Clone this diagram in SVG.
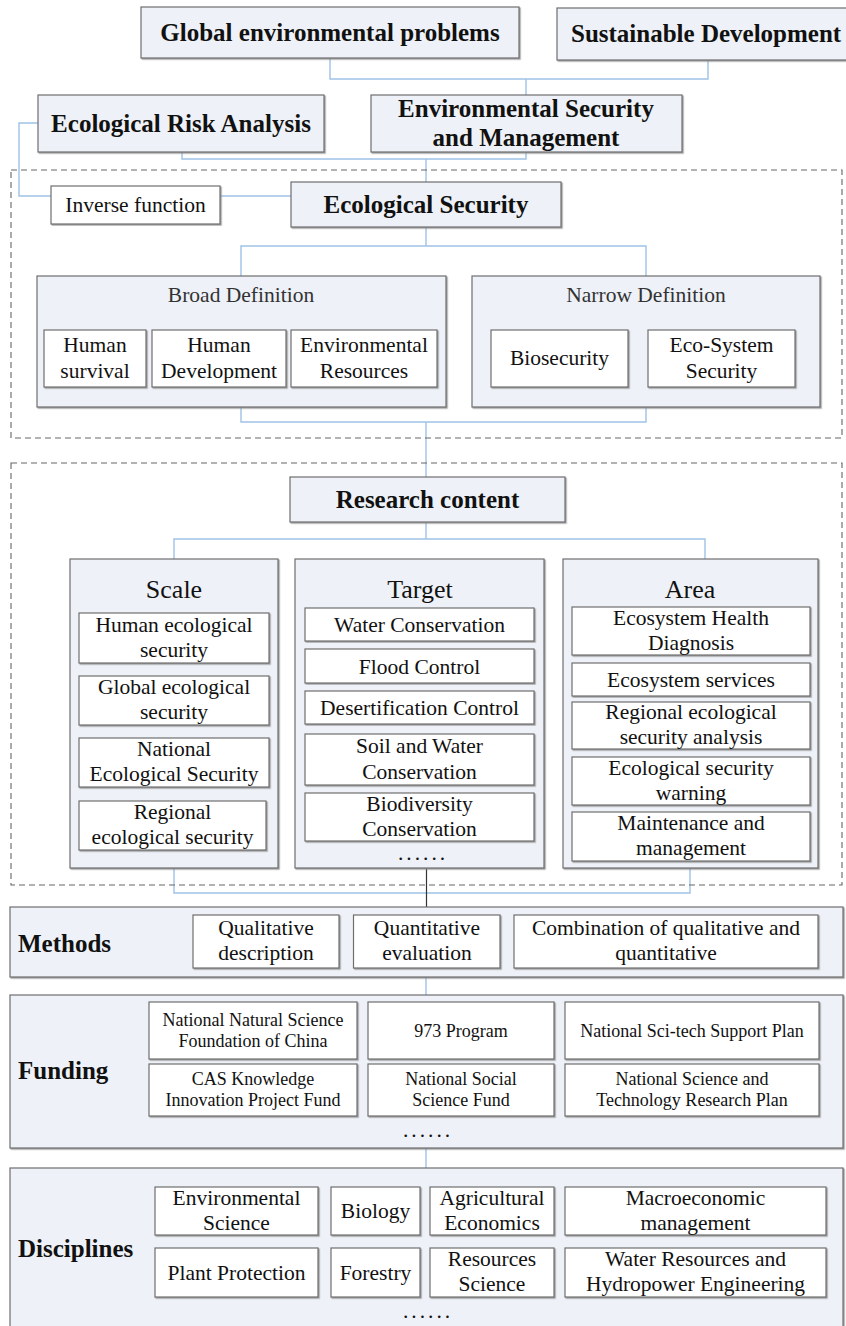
<svg xmlns="http://www.w3.org/2000/svg" width="846" height="1326" viewBox="0 0 846 1326">
<defs>
<filter id="sh" x="-5%" y="-5%" width="110%" height="110%">
<feDropShadow dx="1.2" dy="1.2" stdDeviation="0.6" flood-color="#8a8a8a" flood-opacity="0.8"/>
</filter>
<style>
.panel{fill:#eef1f7;stroke:#6e6e6e;stroke-width:1.2;filter:url(#sh)}
.box{fill:#ffffff;stroke:#6e6e6e;stroke-width:1.2;filter:url(#sh)}
.con{fill:none;stroke:#9fc2e6;stroke-width:1.4}
.blk{fill:none;stroke:#333;stroke-width:1.2}
.dash{fill:none;stroke:#666;stroke-width:1.1;stroke-dasharray:6 4}
text{font-family:"Liberation Serif","Times New Roman",serif;fill:#111;text-anchor:middle}
.b{font-weight:bold;font-size:25px}
.t{font-size:21.5px}
.s{font-size:18px}
.h{font-size:26px}
.g{fill:#333}
.l{text-anchor:start}
.d{font-size:21.5px;letter-spacing:3px}
</style>
</defs>
<rect width="846" height="1326" fill="#ffffff"/>

<g id="connectors">
<path class="con" d="M330,58 V79 H708 V60"/>
<path class="con" d="M526,79 V95"/>
<path class="con" d="M182,152 V159 H526 V152"/>
<path class="con" d="M426,159 V182"/>
<path class="con" d="M38,123 H19 V196 H51"/>
<path class="con" d="M220,196 H291"/>
<path class="con" d="M426,227 V246"/>
<path class="con" d="M241,276 V246 H646 V276"/>
<path class="con" d="M241,407 V422 H646 V407"/>
<path class="con" d="M426,422 V477"/>
<path class="con" d="M426,522 V539"/>
<path class="con" d="M174,559 V539 H705 V559"/>
<path class="con" d="M174,868 V893 H690 V868"/>
<path class="blk" d="M426.5,868 V915"/>
<path class="con" d="M426,977 V995"/>
<path class="con" d="M426,1148 V1168"/>
</g>

<g id="frames">
<rect class="dash" x="11" y="170" width="831" height="268"/>
<rect class="dash" x="11" y="463" width="831" height="422"/>
</g>

<g id="global-env">
<rect class="panel" x="141" y="7" width="378" height="51"/>
<text class="b" x="330" y="41">Global environmental problems</text>
</g>
<g id="sustainable">
<rect class="panel" x="557" y="8" width="300" height="52"/>
<text class="b l" x="571" y="42">Sustainable Development</text>
</g>
<g id="era">
<rect class="panel" x="38" y="95" width="286" height="57"/>
<text class="b" x="181" y="132">Ecological Risk Analysis</text>
</g>
<g id="esm">
<rect class="panel" x="371" y="95" width="311" height="57"/>
<text class="b" x="526" y="117">Environmental Security</text>
<text class="b" x="526" y="146">and Management</text>
</g>
<g id="inverse">
<rect class="box" x="51" y="186" width="169" height="38"/>
<text class="t" x="135.5" y="212">Inverse function</text>
</g>
<g id="eco-security">
<rect class="panel" x="291" y="182" width="270" height="45"/>
<text class="b" x="426" y="213">Ecological Security</text>
</g>

<g id="broad">
<rect class="panel" x="37" y="276" width="409" height="131"/>
<text class="t g" x="241" y="302">Broad Definition</text>
<rect class="box" x="44" y="330" width="102" height="57"/>
<text class="t" x="95" y="352">Human</text><text class="t" x="95" y="378">survival</text>
<rect class="box" x="152" y="330" width="134" height="57"/>
<text class="t" x="219" y="352">Human</text><text class="t" x="219" y="378">Development</text>
<rect class="box" x="291" y="330" width="146" height="57"/>
<text class="t" x="364" y="352">Environmental</text><text class="t" x="364" y="378">Resources</text>
</g>
<g id="narrow">
<rect class="panel" x="472" y="276" width="348" height="131"/>
<text class="t g" x="646" y="302">Narrow Definition</text>
<rect class="box" x="491" y="330" width="137" height="57"/>
<text class="t" x="559.5" y="365">Biosecurity</text>
<rect class="box" x="648" y="330" width="147" height="57"/>
<text class="t" x="721.5" y="352">Eco-System</text><text class="t" x="721.5" y="378">Security</text>
</g>

<g id="research">
<rect class="panel" x="290" y="477" width="275" height="45"/>
<text class="b" x="427.5" y="508">Research content</text>
</g>

<g id="scale">
<rect class="panel" x="70" y="559" width="208" height="309"/>
<text class="h" x="174" y="598">Scale</text>
<rect class="box" x="79" y="613" width="190" height="50"/>
<text class="t" x="174" y="632">Human ecological</text><text class="t" x="174" y="657">security</text>
<rect class="box" x="79" y="676" width="190" height="49"/>
<text class="t" x="174" y="694">Global ecological</text><text class="t" x="174" y="719">security</text>
<rect class="box" x="79" y="738" width="190" height="49"/>
<text class="t" x="174" y="756">National</text><text class="t" x="174" y="781">Ecological Security</text>
<rect class="box" x="79" y="801" width="187" height="49"/>
<text class="t" x="172.5" y="819">Regional</text><text class="t" x="172.5" y="844">ecological security</text>
</g>

<g id="target">
<rect class="panel" x="295" y="559" width="249" height="309"/>
<text class="h" x="420" y="598">Target</text>
<rect class="box" x="305" y="608" width="229" height="33"/>
<text class="t" x="419.5" y="632">Water Conservation</text>
<rect class="box" x="305" y="649" width="229" height="34"/>
<text class="t" x="419.5" y="674">Flood Control</text>
<rect class="box" x="305" y="691" width="229" height="33"/>
<text class="t" x="419.5" y="715">Desertification Control</text>
<rect class="box" x="305" y="734" width="229" height="51"/>
<text class="t" x="419.5" y="753">Soil and Water</text><text class="t" x="419.5" y="779">Conservation</text>
<rect class="box" x="305" y="793" width="229" height="48"/>
<text class="t" x="419.5" y="811">Biodiversity</text><text class="t" x="419.5" y="836">Conservation</text>
<text class="d" x="423" y="860">......</text>
</g>

<g id="area">
<rect class="panel" x="563" y="559" width="255" height="309"/>
<text class="h" x="690" y="598">Area</text>
<rect class="box" x="572" y="607" width="238" height="48"/>
<text class="t" x="691" y="625">Ecosystem Health</text><text class="t" x="691" y="650">Diagnosis</text>
<rect class="box" x="572" y="663" width="238" height="33"/>
<text class="t" x="691" y="687">Ecosystem services</text>
<rect class="box" x="572" y="702" width="238" height="47"/>
<text class="t" x="691" y="719">Regional ecological</text><text class="t" x="691" y="744">security analysis</text>
<rect class="box" x="572" y="757" width="238" height="48"/>
<text class="t" x="691" y="775">Ecological security</text><text class="t" x="691" y="800">warning</text>
<rect class="box" x="572" y="812" width="238" height="49"/>
<text class="t" x="691" y="830">Maintenance and</text><text class="t" x="691" y="855">management</text>
</g>

<g id="methods">
<rect class="panel" x="10" y="907" width="833" height="70"/>
<text class="b l" x="18" y="952">Methods</text>
<rect class="box" x="193" y="915" width="146" height="53"/>
<text class="t" x="266" y="935">Qualitative</text><text class="t" x="266" y="960">description</text>
<rect class="box" x="353.5" y="915" width="146.5" height="53"/>
<text class="t" x="427" y="935">Quantitative</text><text class="t" x="427" y="960">evaluation</text>
<rect class="box" x="514" y="915" width="304" height="53"/>
<text class="t" x="666" y="935">Combination of qualitative and</text><text class="t" x="666" y="960">quantitative</text>
</g>

<g id="funding">
<rect class="panel" x="10" y="995" width="833" height="153"/>
<text class="b l" x="18" y="1079">Funding</text>
<rect class="box" x="149" y="1002" width="208" height="57"/>
<text class="s" x="253" y="1026">National Natural Science</text><text class="s" x="253" y="1047">Foundation of China</text>
<rect class="box" x="368" y="1002" width="186" height="57"/>
<text class="s" x="461" y="1037">973 Program</text>
<rect class="box" x="565" y="1002" width="254" height="57"/>
<text class="s" x="692" y="1037">National Sci-tech Support Plan</text>
<rect class="box" x="149" y="1064" width="208" height="52"/>
<text class="s" x="253" y="1085">CAS Knowledge</text><text class="s" x="253" y="1106">Innovation Project Fund</text>
<rect class="box" x="368" y="1064" width="186" height="52"/>
<text class="s" x="461" y="1085">National Social</text><text class="s" x="461" y="1106">Science Fund</text>
<rect class="box" x="565" y="1064" width="254" height="52"/>
<text class="s" x="692" y="1085">National Science and</text><text class="s" x="692" y="1106">Technology Research Plan</text>
<text class="d" x="428" y="1137">......</text>
</g>

<g id="disciplines">
<rect class="panel" x="10" y="1168" width="833" height="165"/>
<text class="b l" x="18" y="1257">Disciplines</text>
<rect class="box" x="155" y="1187" width="163" height="48"/>
<text class="t" x="236.5" y="1205">Environmental</text><text class="t" x="236.5" y="1230">Science</text>
<rect class="box" x="331" y="1187" width="89" height="48"/>
<text class="t" x="375.5" y="1218">Biology</text>
<rect class="box" x="430" y="1187" width="124" height="48"/>
<text class="t" x="492" y="1205">Agricultural</text><text class="t" x="492" y="1230">Economics</text>
<rect class="box" x="565" y="1187" width="261" height="48"/>
<text class="t" x="695.5" y="1205">Macroeconomic</text><text class="t" x="695.5" y="1230">management</text>
<rect class="box" x="155" y="1248" width="163" height="49"/>
<text class="t" x="236.5" y="1280">Plant Protection</text>
<rect class="box" x="331" y="1248" width="89" height="49"/>
<text class="t" x="375.5" y="1280">Forestry</text>
<rect class="box" x="430" y="1248" width="124" height="49"/>
<text class="t" x="492" y="1266">Resources</text><text class="t" x="492" y="1291">Science</text>
<rect class="box" x="565" y="1248" width="261" height="49"/>
<text class="t" x="695.5" y="1266">Water Resources and</text><text class="t" x="695.5" y="1291">Hydropower Engineering</text>
<text class="d" x="428" y="1318">......</text>
</g>
</svg>
